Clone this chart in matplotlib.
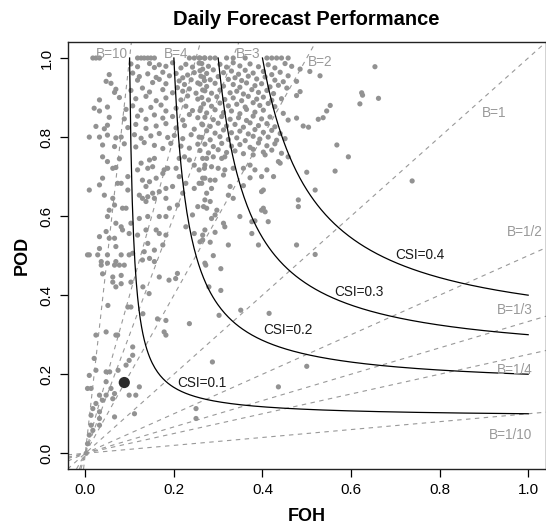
import numpy as np
import matplotlib
matplotlib.use("Agg")
import matplotlib.pyplot as plt

plt.rcParams['font.family'] = ['Liberation Sans', 'DejaVu Sans']

# ---------------- data ----------------
title = "Daily Forecast Performance"
x_label = "FOH"
y_label = "POD"
ticks = [0.0, 0.2, 0.4, 0.6, 0.8, 1.0]
tick_labels = ["0.0", "0.2", "0.4", "0.6", "0.8", "1.0"]

csi_levels = [0.1, 0.2, 0.3, 0.4]
csi_labels = ["CSI=0.1", "CSI=0.2", "CSI=0.3", "CSI=0.4"]
csi_label_pos = [(0.2635, 0.178), (0.4565, 0.312), (0.618, 0.408), (0.755, 0.502)]

bias_values = [10, 4, 3, 2, 1, 1/2, 1/3, 1/4, 1/10]
bias_labels = ["B=10", "B=4", "B=3", "B=2", "B=1", "B=1/2", "B=1/3", "B=1/4", "B=1/10"]
bias_label_pos = [(0.061, 1.010), (0.205, 1.010), (0.367, 1.010), (0.531, 0.990),
                  (0.923, 0.861), (0.993, 0.560), (0.970, 0.3625), (0.970, 0.2107),
                  (0.959, 0.046)]

highlight_point = (0.088, 0.179)

upper_left_points = [
    (0.017, 1.000), (0.024, 1.000), (0.032, 1.000), (0.118, 1.000), (0.126, 1.000), (0.133, 1.000),
    (0.141, 1.000), (0.148, 1.000), (0.156, 1.000), (0.235, 1.000), (0.246, 1.000), (0.257, 1.000),
    (0.269, 1.000),
    (0.103, 0.985), (0.118, 0.978), (0.145, 0.986), (0.156, 0.976), (0.167, 0.983), (0.182, 0.979),
    (0.197, 0.988), (0.216, 0.975), (0.227, 0.984), (0.242, 0.977), (0.257, 0.987), (0.265, 0.972),
    (0.054, 0.958), (0.107, 0.962), (0.122, 0.953), (0.141, 0.960), (0.160, 0.951), (0.175, 0.964),
    (0.190, 0.955), (0.205, 0.961), (0.220, 0.950), (0.231, 0.957), (0.246, 0.963), (0.261, 0.954),
    (0.047, 0.941), (0.058, 0.936), (0.118, 0.944), (0.152, 0.938), (0.167, 0.946), (0.182, 0.935),
    (0.212, 0.942), (0.224, 0.933), (0.239, 0.945), (0.254, 0.937), (0.269, 0.943),
    (0.069, 0.921), (0.066, 0.913), (0.103, 0.918), (0.129, 0.924), (0.145, 0.914), (0.175, 0.920),
    (0.197, 0.912), (0.208, 0.925), (0.220, 0.916), (0.235, 0.922), (0.250, 0.911), (0.265, 0.919),
    (0.077, 0.900), (0.032, 0.894), (0.114, 0.897), (0.137, 0.903), (0.160, 0.892), (0.182, 0.899),
    (0.216, 0.894), (0.231, 0.904), (0.254, 0.896),
    (0.020, 0.873), (0.032, 0.866), (0.050, 0.876), (0.092, 0.870), (0.107, 0.879), (0.126, 0.868),
    (0.148, 0.875), (0.171, 0.881), (0.182, 0.866), (0.205, 0.873), (0.227, 0.878), (0.242, 0.867),
    (0.261, 0.874),
    (0.054, 0.850), (0.088, 0.846), (0.118, 0.853), (0.137, 0.845), (0.156, 0.856), (0.175, 0.848),
    (0.197, 0.852), (0.220, 0.843), (0.235, 0.857), (0.254, 0.849),
    (0.024, 0.827), (0.043, 0.821), (0.050, 0.830), (0.096, 0.824), (0.114, 0.832), (0.137, 0.822),
    (0.160, 0.828), (0.182, 0.834), (0.205, 0.823), (0.224, 0.829), (0.246, 0.820), (0.265, 0.831),
    (0.009, 0.800), (0.032, 0.800), (0.050, 0.805), (0.069, 0.798), (0.081, 0.800), (0.111, 0.806),
    (0.126, 0.797), (0.148, 0.803), (0.167, 0.809), (0.186, 0.799), (0.201, 0.804), (0.220, 0.796),
    (0.239, 0.806), (0.257, 0.800),
    (0.039, 0.780), (0.066, 0.776), (0.088, 0.783), (0.114, 0.775), (0.133, 0.786), (0.156, 0.779),
    (0.175, 0.771), (0.193, 0.784), (0.216, 0.777), (0.235, 0.772), (0.254, 0.782),
]

upper_right_points = [
    (0.259, 1.000), (0.270, 1.000), (0.282, 1.000), (0.293, 1.000), (0.319, 1.000), (0.334, 1.000),
    (0.361, 1.000), (0.410, 1.000), (0.421, 1.000), (0.432, 1.000), (0.443, 1.000), (0.458, 1.000),
    (0.263, 0.986), (0.278, 0.979), (0.304, 0.984), (0.319, 0.977), (0.334, 0.988), (0.349, 0.980),
    (0.372, 0.985), (0.391, 0.978), (0.413, 0.983), (0.428, 0.975), (0.451, 0.986), (0.466, 0.979),
    (0.485, 0.972),
    (0.259, 0.968), (0.274, 0.961), (0.289, 0.970), (0.312, 0.963), (0.330, 0.967), (0.346, 0.959),
    (0.361, 0.969), (0.379, 0.962), (0.402, 0.966), (0.421, 0.958), (0.440, 0.964), (0.458, 0.955),
    (0.507, 0.966),
    (0.267, 0.951), (0.282, 0.945), (0.300, 0.953), (0.323, 0.946), (0.338, 0.950), (0.353, 0.943),
    (0.368, 0.954), (0.387, 0.947), (0.406, 0.952), (0.428, 0.944), (0.447, 0.940), (0.530, 0.955),
    (0.259, 0.934), (0.274, 0.928), (0.293, 0.936), (0.312, 0.929), (0.334, 0.933), (0.349, 0.926),
    (0.364, 0.937), (0.383, 0.930), (0.398, 0.935), (0.417, 0.927), (0.436, 0.931), (0.455, 0.924),
    (0.270, 0.917), (0.285, 0.911), (0.304, 0.919), (0.327, 0.912), (0.342, 0.916), (0.357, 0.909),
    (0.376, 0.920), (0.391, 0.913), (0.410, 0.918), (0.425, 0.910), (0.485, 0.915), (0.624, 0.912),
    (0.263, 0.900), (0.278, 0.894), (0.297, 0.902), (0.315, 0.895), (0.334, 0.899), (0.353, 0.892),
    (0.368, 0.903), (0.387, 0.896), (0.402, 0.901), (0.421, 0.893), (0.443, 0.897), (0.477, 0.905),
    (0.267, 0.884), (0.285, 0.878), (0.304, 0.886), (0.323, 0.879), (0.342, 0.883), (0.361, 0.876),
    (0.379, 0.887), (0.394, 0.880), (0.413, 0.885), (0.428, 0.877), (0.553, 0.880), (0.620, 0.884),
    (0.259, 0.867), (0.274, 0.861), (0.293, 0.869), (0.312, 0.862), (0.330, 0.866), (0.349, 0.859),
    (0.364, 0.870), (0.383, 0.863), (0.402, 0.868), (0.447, 0.860), (0.545, 0.866),
    (0.270, 0.850), (0.289, 0.844), (0.308, 0.852), (0.327, 0.845), (0.346, 0.849), (0.364, 0.842),
    (0.379, 0.853), (0.398, 0.846), (0.417, 0.851), (0.458, 0.843), (0.477, 0.848), (0.526, 0.845),
    (0.537, 0.849),
    (0.263, 0.833), (0.282, 0.827), (0.300, 0.835), (0.319, 0.828), (0.338, 0.832), (0.357, 0.825),
    (0.372, 0.836), (0.391, 0.829), (0.410, 0.834), (0.428, 0.826), (0.492, 0.828), (0.504, 0.825),
    (0.274, 0.816), (0.293, 0.810), (0.312, 0.818), (0.330, 0.811), (0.349, 0.815), (0.368, 0.808),
    (0.383, 0.819), (0.402, 0.812), (0.421, 0.817), (0.440, 0.809),
    (0.263, 0.799), (0.282, 0.793), (0.304, 0.801), (0.323, 0.794), (0.342, 0.798), (0.361, 0.791),
    (0.379, 0.802), (0.394, 0.795), (0.413, 0.800), (0.432, 0.792), (0.451, 0.796),
    (0.270, 0.782), (0.289, 0.776), (0.308, 0.784), (0.330, 0.777), (0.349, 0.781), (0.372, 0.774),
    (0.391, 0.785), (0.410, 0.778), (0.428, 0.783), (0.568, 0.780),
    (0.259, 0.766), (0.278, 0.760), (0.300, 0.768), (0.319, 0.761), (0.338, 0.765), (0.357, 0.758),
    (0.379, 0.769), (0.402, 0.762), (0.421, 0.767), (0.443, 0.759),
    (0.654, 0.978), (0.626, 0.906), (0.662, 0.898), (0.738, 0.689), (0.477, 0.941),
]

mid_left_points = [
    (0.039, 0.750), (0.050, 0.738), (0.077, 0.745), (0.062, 0.721), (0.069, 0.723), (0.039, 0.696),
    (0.009, 0.666), (0.032, 0.679), (0.073, 0.683), (0.081, 0.683), (0.096, 0.700), (0.096, 0.666),
    (0.118, 0.717), (0.126, 0.734), (0.145, 0.742), (0.156, 0.746), (0.141, 0.721), (0.152, 0.725),
    (0.129, 0.691), (0.145, 0.687), (0.137, 0.675), (0.160, 0.696), (0.175, 0.708), (0.178, 0.717),
    (0.186, 0.721), (0.205, 0.721), (0.212, 0.700), (0.197, 0.675), (0.182, 0.670), (0.167, 0.662),
    (0.152, 0.658), (0.122, 0.653), (0.129, 0.645), (0.141, 0.649), (0.137, 0.637), (0.156, 0.645),
    (0.182, 0.645), (0.043, 0.653), (0.062, 0.645), (0.066, 0.628), (0.084, 0.620), (0.092, 0.620),
    (0.054, 0.615), (0.050, 0.599), (0.069, 0.582), (0.081, 0.573), (0.084, 0.565), (0.103, 0.582),
    (0.122, 0.594), (0.141, 0.599), (0.167, 0.599), (0.182, 0.599), (0.190, 0.620), (0.208, 0.628),
    (0.220, 0.658), (0.227, 0.683), (0.246, 0.670), (0.257, 0.683), (0.265, 0.696), (0.254, 0.624),
    (0.242, 0.603), (0.227, 0.573), (0.246, 0.556), (0.265, 0.552), (0.265, 0.540), (0.032, 0.548),
    (0.047, 0.561), (0.054, 0.544), (0.066, 0.544), (0.069, 0.523), (0.099, 0.556), (0.118, 0.552),
    (0.137, 0.565), (0.141, 0.531), (0.160, 0.565), (0.167, 0.556), (0.182, 0.552), (0.175, 0.527),
    (0.133, 0.510), (0.156, 0.514), (0.156, 0.485), (0.107, 0.506), (0.081, 0.502), (0.099, 0.502),
    (0.050, 0.502), (0.028, 0.502), (0.005, 0.502), (0.009, 0.502), (0.032, 0.518), (0.050, 0.481),
    (0.036, 0.485), (0.069, 0.485), (0.129, 0.489), (0.145, 0.493), (0.212, 0.746), (0.224, 0.750),
    (0.235, 0.742), (0.246, 0.729), (0.265, 0.746), (0.257, 0.717), (0.269, 0.721),
]

mid_right_points = [
    (0.274, 0.746), (0.289, 0.750), (0.308, 0.746), (0.315, 0.750), (0.270, 0.729), (0.285, 0.725),
    (0.300, 0.721), (0.315, 0.717), (0.334, 0.721), (0.357, 0.721), (0.372, 0.729), (0.383, 0.717),
    (0.410, 0.717), (0.440, 0.734), (0.436, 0.738), (0.379, 0.755), (0.406, 0.755), (0.458, 0.750),
    (0.594, 0.750), (0.270, 0.696), (0.282, 0.691), (0.293, 0.691), (0.263, 0.683), (0.312, 0.704),
    (0.372, 0.697), (0.398, 0.700), (0.425, 0.700), (0.500, 0.711), (0.564, 0.714), (0.327, 0.675),
    (0.357, 0.677), (0.285, 0.670), (0.274, 0.658), (0.402, 0.666), (0.398, 0.662), (0.323, 0.653),
    (0.334, 0.645), (0.519, 0.666), (0.270, 0.641), (0.282, 0.637), (0.267, 0.624), (0.274, 0.620),
    (0.297, 0.615), (0.293, 0.603), (0.402, 0.620), (0.406, 0.611), (0.398, 0.615), (0.481, 0.641),
    (0.481, 0.624), (0.349, 0.599), (0.376, 0.586), (0.383, 0.588), (0.413, 0.586), (0.285, 0.594),
    (0.312, 0.582), (0.315, 0.573), (0.270, 0.565), (0.293, 0.559), (0.376, 0.556), (0.259, 0.535),
    (0.282, 0.534), (0.323, 0.527), (0.391, 0.527), (0.477, 0.527), (0.519, 0.503), (0.289, 0.500),
    (0.270, 0.481),
]

low_points = [
    (0.002, 0.000), (0.005, 0.024), (0.009, 0.046), (0.017, 0.058), (0.013, 0.071), (0.032, 0.071),
    (0.032, 0.088), (0.013, 0.096), (0.017, 0.113), (0.032, 0.105), (0.024, 0.126), (0.039, 0.134),
    (0.005, 0.164), (0.013, 0.164), (0.032, 0.147), (0.047, 0.147), (0.062, 0.138), (0.066, 0.151),
    (0.058, 0.164), (0.047, 0.181), (0.009, 0.197), (0.024, 0.210), (0.047, 0.206), (0.055, 0.206),
    (0.074, 0.210), (0.020, 0.240), (0.092, 0.223), (0.099, 0.235), (0.107, 0.248), (0.047, 0.307),
    (0.069, 0.299), (0.073, 0.299), (0.024, 0.299), (0.051, 0.374), (0.096, 0.370), (0.103, 0.370),
    (0.130, 0.353), (0.107, 0.269), (0.178, 0.307), (0.182, 0.299), (0.235, 0.328), (0.287, 0.231),
    (0.250, 0.113), (0.250, 0.088), (0.111, 0.100), (0.066, 0.092), (0.099, 0.147), (0.114, 0.147),
    (0.122, 0.168), (0.163, 0.340), (0.182, 0.336), (0.144, 0.404), (0.130, 0.421), (0.167, 0.446),
    (0.189, 0.438), (0.204, 0.442), (0.208, 0.455), (0.272, 0.476), (0.306, 0.467), (0.306, 0.412),
    (0.302, 0.349), (0.279, 0.421), (0.351, 0.362), (0.062, 0.446), (0.081, 0.450), (0.039, 0.454),
    (0.066, 0.476), (0.077, 0.476), (0.088, 0.476), (0.036, 0.476), (0.069, 0.421), (0.081, 0.429),
    (0.062, 0.433), (0.103, 0.433), (0.436, 0.168), (0.500, 0.220), (0.415, 0.354),
]

# ---------------- plot ----------------
fig = plt.figure(figsize=(5.46, 5.27), dpi=100)
ax = fig.add_axes([0.1238, 0.1099, 0.876, 0.810])
ax.set_xlim(-0.04, 1.04)
ax.set_ylim(-0.04, 1.04)

gray = '#999999'

# bias lines
for b in bias_values:
    ax.axline((0, 0), slope=b, color=gray, lw=0.8, ls=(0, (4, 4)), zorder=1)

# scatter
all_points = upper_left_points + upper_right_points + mid_left_points + mid_right_points + low_points
pts = np.array(all_points)
ax.scatter(pts[:, 0], pts[:, 1], s=14, color='#929292', edgecolors='none', zorder=2)

# CSI curves
for c in csi_levels:
    f = np.linspace(c, 1.0, 300)
    p = 1.0 / (1.0 / c - 1.0 / f + 1.0)
    ax.plot(f, p, color='black', lw=0.9, zorder=3)

for lab, (x, y) in zip(csi_labels, csi_label_pos):
    ax.text(x, y, lab, fontsize=9.8, color='#1a1a1a', ha='center', va='center', zorder=4)

for lab, (x, y) in zip(bias_labels, bias_label_pos):
    ax.text(x, y, lab, fontsize=9.8, color=gray, ha='center', va='center', zorder=4, clip_on=False)

ax.scatter([highlight_point[0]], [highlight_point[1]], s=65, color='#2b2b2b', edgecolors='none', zorder=5)

ax.set_xticks(ticks)
ax.set_xticklabels(tick_labels)
ax.set_yticks(ticks)
ax.set_yticklabels(tick_labels, rotation=90, va='center')
ax.tick_params(axis='both', direction='out', length=6, width=0.9, labelsize=11, color='black')
ax.tick_params(axis='x', pad=4)
ax.tick_params(axis='y', pad=4)
for s in ax.spines.values():
    s.set_linewidth(1.0)
    s.set_color('#222222')

ax.set_xlabel(x_label, fontsize=13, fontweight='bold')
ax.xaxis.set_label_coords(0.5, -0.112)
ax.xaxis.label.set_va('center')
ax.set_ylabel(y_label, fontsize=13, fontweight='bold')
ax.yaxis.set_label_coords(-0.0953, 0.5)
ax.yaxis.label.set_va('center')

ax.text(0.5, 1.054, title, transform=ax.transAxes, ha='center', va='center',
        fontsize=14.5, fontweight='bold')

fig.savefig('out.png', dpi=100)
